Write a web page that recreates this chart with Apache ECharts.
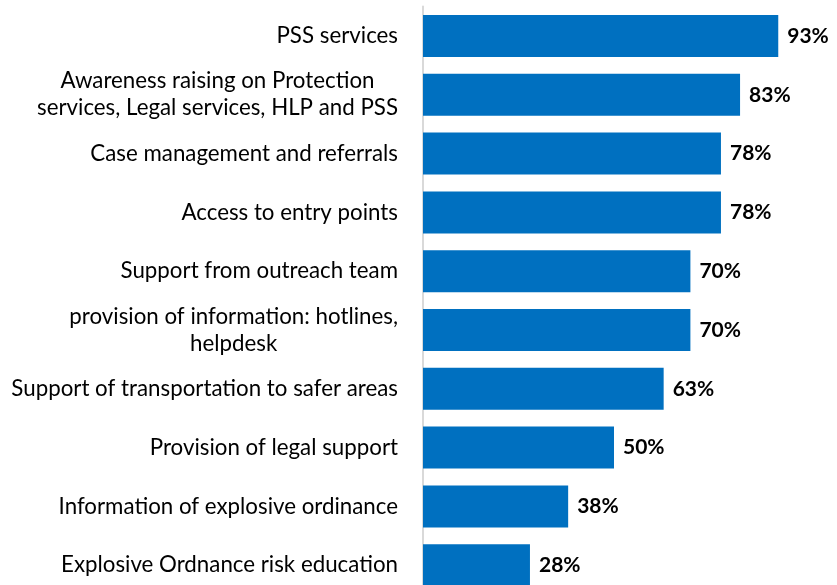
<!DOCTYPE html>
<html><head><meta charset="utf-8">
<script src="https://cdn.jsdelivr.net/npm/echarts@6/dist/echarts.min.js"></script>
<style>html,body{margin:0;padding:0;background:#fff}#c{width:837px;height:585px}</style>
</head><body><div id="c"></div>
<script>
const categories = [
  "PSS services",
  "Awareness raising on Protection\nservices, Legal services, HLP and PSS",
  "Case management and referrals",
  "Access to entry points",
  "Support from outreach team",
  "provision of information: hotlines,\nhelpdesk",
  "Support of transportation to safer areas",
  "Provision of legal support",
  "Information of explosive ordinance",
  "Explosive Ordnance risk education"
];
const values = [93, 83, 78, 78, 70, 70, 63, 50, 38, 28];

const FONT = 'Lato';
const FS = 22.3;

const chart = echarts.init(document.getElementById('c'));
chart.setOption({
  animation: false,
  grid: { left: 423, width: 382, top: 6.6, height: 588, containLabel: false, outerBoundsMode: 'none' },
  xAxis: { type: 'value', min: 0, max: 100, show: false, splitLine: { show: false } },
  yAxis: {
    type: 'category', inverse: true, data: categories,
    axisTick: { show: false },
    axisLine: { show: true, lineStyle: { color: '#d9d9d9', width: 2 } },
    axisLabel: {
      margin: 25, color: '#000', fontFamily: FONT, fontSize: FS, lineHeight: 27,
      formatter: function (v) {
        const lines = v.split('\n');
        if (lines.length === 1) return v;
        return lines.map(s => '{c|' + s + '}').join('\n');
      },
      rich: {
        c: { fontFamily: FONT, fontSize: FS, color: '#000', lineHeight: 27, align: 'center' }
      }
    }
  },
  series: [{
    type: 'bar', data: values, barCategoryGap: '28.6%',
    itemStyle: { color: '#0070C0' },
    label: { show: true, position: 'right', distance: 9, formatter: '{c}%',
      color: '#000', fontFamily: FONT, fontWeight: 'bold', fontSize: 21 }
  }]
});
</script></body></html>
